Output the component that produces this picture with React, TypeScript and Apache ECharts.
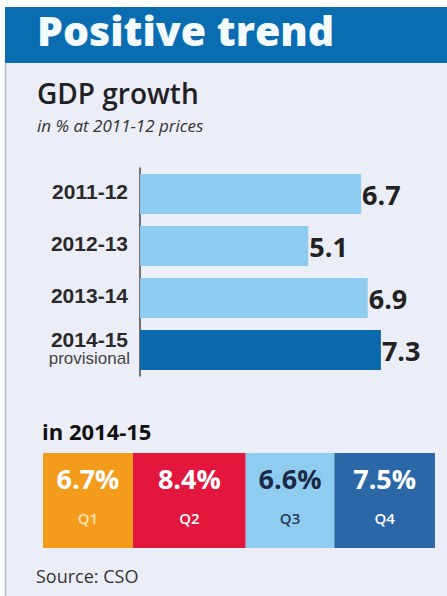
import React, { useEffect, useRef } from "react";
import * as echarts from "echarts";

const years = ["2011-12", "2012-13", "2013-14", "2014-15"];
const growth = [6.7, 5.1, 6.9, 7.3];
const quarters = ["Q1", "Q2", "Q3", "Q4"];
const quarterGrowth = [6.7, 8.4, 6.6, 7.5];
const quarterColors = ["#f39c1c", "#e3173e", "#8fcdf0", "#2c68a8"];
const quarterText = ["#ffffff", "#ffffff", "#1c2a48", "#ffffff"];
const quarterSub = ["#fbe3b8", "#ffffff", "#2a3a58", "#ffffff"];

const SANS = "'Open Sans', 'Noto Sans', sans-serif";
const LIB = "'Liberation Sans', Arial, sans-serif";

export default function App() {
  const ref = useRef<HTMLDivElement>(null);
  useEffect(() => {
    if (!ref.current) return;
    const chart = echarts.init(ref.current, null, { renderer: "svg" });
    const qTotal = quarterGrowth.reduce((a, b) => a + b, 0);
    chart.setOption({
      animation: false,
      backgroundColor: "#ffffff",
      graphic: [
        { type: "rect", z: -10, shape: { x: 5, y: 62, width: 442, height: 534 }, style: { fill: "#eceef7" } },
        { type: "line", z: -9, shape: { x1: 5.5, y1: 62, x2: 5.5, y2: 596 }, style: { stroke: "#b9bcc4", lineWidth: 1.5 } },
        { type: "rect", z: -9, shape: { x: 5, y: 7, width: 442, height: 56 }, style: { fill: "#0a6db2" } },
        {
          type: "text", left: 37, top: 9,
          style: { text: "Positive trend", fill: "#f4fbff", font: `800 41px ${SANS}` },
        },
        {
          type: "text", left: 37, top: 79,
          style: { text: "GDP growth", fill: "#1f2126", font: `600 28px ${SANS}` },
        },
        {
          type: "text", left: 37, top: 117,
          style: { text: "in % at 2011-12 prices", fill: "#333333", font: `italic 17px ${SANS}` },
        },
        {
          type: "text", left: 42, top: 420,
          style: { text: "in 2014-15", fill: "#111111", font: `bold 22px ${SANS}` },
        },
        {
          type: "text", left: 36, top: 567,
          style: { text: "Source: CSO", fill: "#333333", font: `18px ${SANS}` },
        },
      ],
      grid: [
        { left: 140, top: 168, width: 297, height: 208 },
        { left: 43, top: 453, width: 392, height: 95 },
      ],
      xAxis: [
        { gridIndex: 0, type: "value", min: 0, max: 9, show: false },
        { gridIndex: 1, type: "value", min: 0, max: qTotal, show: false },
      ],
      yAxis: [
        {
          gridIndex: 0,
          type: "category",
          data: years,
          inverse: true,
          axisLine: { show: true, lineStyle: { color: "#444", width: 1.5 } },
          axisTick: { show: false },
          axisLabel: {
            margin: 10,
            formatter: (v: string, i: number) =>
              i === years.length - 1 ? `{a|${v}}\n{b|provisional}\n{s| }` : `{a|${v}}\n{s| }`,
            rich: {
              a: { fontFamily: LIB, fontWeight: "bold", fontSize: 21, color: "#2a2a2a", lineHeight: 22, align: "right", padding: [0, 2, 0, 0] },
              b: { fontFamily: LIB, fontSize: 17, color: "#444", lineHeight: 17, align: "right" },
              s: { fontSize: 5, lineHeight: 5 },
            },
          },
        },
        { gridIndex: 1, type: "category", data: ["2014-15"], show: false },
      ],
      series: [
        {
          type: "bar",
          xAxisIndex: 0,
          yAxisIndex: 0,
          barWidth: 40,
          data: growth.map((v, i) => ({
            value: v,
            itemStyle: { color: i === growth.length - 1 ? "#0a6aab" : "#8dcbef" },
          })),
          label: {
            show: true,
            position: "right",
            distance: 1,
            fontFamily: SANS,
            fontWeight: "bold",
            fontSize: 27,
            color: "#222222",
            padding: [4, 0, 0, 0],
          },
        },
        ...quarters.map((q, i) => ({
          type: "bar",
          name: q,
          xAxisIndex: 1,
          yAxisIndex: 1,
          stack: "q",
          barWidth: 95,
          data: [quarterGrowth[i]],
          itemStyle: { color: quarterColors[i] },
          label: {
            show: true,
            position: "inside",
            formatter: `{v|${quarterGrowth[i]}%}\n{q|${q}}`,
            rich: {
              v: { fontFamily: SANS, fontWeight: "bold", fontSize: 27, color: quarterText[i], lineHeight: 34 },
              q: { fontFamily: SANS, fontWeight: 600, fontSize: 15, color: quarterSub[i], lineHeight: 44 },
            },
          },
        })),
      ],
    });
    return () => chart.dispose();
  }, []);
  return (
    <div
      ref={ref}
      style={{ position: "fixed", left: 0, top: 0, width: 447, height: 596 }}
    />
  );
}
